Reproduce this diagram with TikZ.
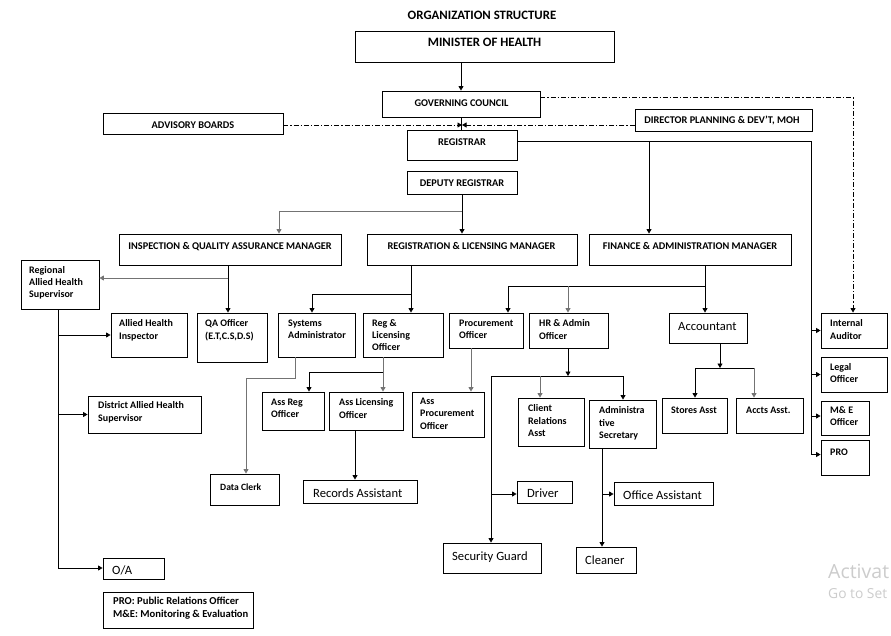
\documentclass[tikz,border=0pt]{standalone}
\usepackage{fontspec}
\setmainfont{Carlito}
\newfontfamily\wmfont{Open Sans}
\usetikzlibrary{arrows.meta,fit,calc}
\newcommand\bx[5]{\node[box, fit={(#2,#3) (#4,#5)}] (#1) {};}
\begin{document}
\begin{tikzpicture}[x=1pt,y=-1pt,
 box/.style={draw, line width=0.9pt, inner sep=0pt},
 hd/.style={font=\fontsize{10.3}{11}\selectfont\bfseries, inner sep=0pt, anchor=base},
 big/.style={font=\fontsize{12.8}{14}\selectfont\bfseries, inner sep=0pt, anchor=base},
 sm/.style={font=\fontsize{10}{12.5}\selectfont\bfseries, inner sep=0pt, anchor=north west, align=left, execute at begin node=\strut},
 rg/.style={font=\fontsize{12.6}{14}\selectfont, inner sep=0pt, anchor=base west},
 ln/.style={line width=0.8pt},
 gl/.style={draw=black!55},
 arr/.style={ln, -{Triangle[width=5pt,length=4.5pt]}},
 dd/.style={dash pattern=on 5pt off 2pt on 1.2pt off 2pt},
]
\useasboundingbox (0,0) rectangle (891,636);
\fill[white] (0,0) rectangle (891,636);

% ---- boxes
\bx{min}{355}{31}{614}{62}
\bx{gc}{382}{91}{540}{117}
\bx{adv}{103}{113}{283}{134}
\bx{dir}{635}{109}{812}{131}
\bx{reg}{407}{130}{517}{160}
\bx{dep}{407}{171}{517}{194}
\bx{insp}{119}{234}{341}{265}
\bx{regm}{367}{234}{577}{265}
\bx{fin}{589}{234}{791}{265}
\bx{rahs}{21}{260}{99}{309}
\bx{ahi}{111}{313}{187}{357}
\bx{qa}{197}{313}{267}{362}
\bx{sa}{278}{313}{355}{357}
\bx{rlo}{363}{313}{443}{357}
\bx{proc}{449}{313}{523}{348}
\bx{hr}{529}{313}{608}{348}
\bx{acc}{669}{313}{747}{343}
\bx{ia}{821}{313}{887}{348}
\bx{legal}{821}{357}{887}{392}
\bx{me}{821}{401}{869}{435}
\bx{pro}{821}{440}{869}{475}
\bx{dahs}{88}{396}{201}{433}
\bx{areg}{262}{392}{324}{430}
\bx{alic}{329}{392}{403}{430}
\bx{aproc}{412}{392}{484}{437}
\bx{cra}{518}{398}{584}{446}
\bx{ads}{589}{400}{656}{448}
\bx{stores}{662}{398}{727}{433}
\bx{accts}{736}{398}{803}{433}
\bx{dc}{210}{474}{279}{505}
\bx{rec}{303}{480}{417}{503}
\bx{drv}{517}{481}{572}{503}
\bx{oas}{614}{482}{713}{505}
\bx{sg}{443}{543}{541}{573}
\bx{cl}{576}{547}{636}{573}
\bx{oa}{103}{558}{164}{579}
\bx{leg}{103}{592}{253}{628}

% ---- texts
\node[big] (t-title) at (482,20) {ORGANIZATION STRUCTURE};
\node[big] (t-min) at (484.5,47) {MINISTER OF HEALTH};
\node[hd] (t-gc) at (461.5,106.5) {GOVERNING COUNCIL};
\node[hd] (t-adv) at (193,128.5) {ADVISORY BOARDS};
\node[hd] (t-dir) at (722,123.5) {DIRECTOR PLANNING \& DEV'T, MOH};
\node[hd] (t-reg) at (462,145.5) {REGISTRAR};
\node[hd] (t-dep) at (462,186.5) {DEPUTY REGISTRAR};
\node[hd] (t-insp) at (230,249.5) {INSPECTION \& QUALITY ASSURANCE MANAGER};
\node[hd] (t-regm) at (471.5,249.5) {REGISTRATION \& LICENSING MANAGER};
\node[hd] (t-fin) at (690,249.5) {FINANCE \& ADMINISTRATION MANAGER};

\node[sm, font=\fontsize{10}{12}\selectfont\bfseries] (t-rahs) at (29,266.5) {Regional\\Allied Health\\Supervisor};
\node[sm] (t-ahi) at (119,319.5) {Allied Health\\Inspector};
\node[sm] (t-qa) at (205,319.5) {QA Officer\\(E.T,C.S,D.S)};
\node[sm] (t-sa) at (288,319.5) {Systems\\Administrator};
\node[sm, font=\fontsize{10}{12}\selectfont\bfseries] (t-rlo) at (372,319.5) {Reg \&\\Licensing\\Officer};
\node[sm] (t-proc) at (459,319.5) {Procurement\\Officer};
\node[sm] (t-hr) at (539,319.5) {HR \& Admin\\Officer};
\node[sm] (t-ia) at (830,319.5) {Internal\\Auditor};
\node[sm, font=\fontsize{10}{12}\selectfont\bfseries] (t-legal) at (830,363.5) {Legal\\Officer};
\node[sm] (t-dahs) at (98,401.5) {District Allied Health\\Supervisor};
\node[sm] (t-areg) at (271,398.5) {Ass Reg\\Officer};
\node[sm] (t-alic) at (339,398.5) {Ass Licensing\\Officer};
\node[sm] (t-aproc) at (420,397.5) {Ass\\Procurement\\Officer};
\node[sm] (t-cra) at (528,404.5) {Client\\Relations\\Asst};
\node[sm] (t-ads) at (599,406.5) {Administra\\tive\\Secretary};
\node[sm] (t-stores) at (671,404.5) {Stores Asst};
\node[sm] (t-accts) at (746,404.5) {Accts Asst.};
\node[sm, font=\fontsize{10}{12}\selectfont\bfseries] (t-me) at (830,406.5) {M\& E\\Officer};
\node[sm] (t-pro) at (830,446.5) {PRO};
\node[sm, font=\fontsize{9.6}{12}\selectfont\bfseries] (t-dc) at (220,481.5) {Data Clerk};
\node[sm, font=\fontsize{10.6}{13}\selectfont\bfseries] (t-leg) at (113,597) {PRO: Public Relations Officer\\M\&E: Monitoring \& Evaluation};

\node[rg] (t-acc) at (678,330) {Accountant};
\node[rg] (t-rec) at (313,497) {Records Assistant};
\node[rg] (t-drv) at (527,497) {Driver};
\node[rg] (t-oas) at (623,499) {Office Assistant};
\node[rg] (t-sg) at (452,560) {Security Guard};
\node[rg] (t-cl) at (585,564) {Cleaner};
\node[rg] (t-oa) at (112,574) {O/A};

\node[inner sep=0pt, anchor=base west, text=black!20, font=\wmfont\fontsize{19.5}{21}\selectfont] (wm1) at (828,578) {Activat};
\node[inner sep=0pt, anchor=base west, text=black!20, font=\wmfont\fontsize{13.8}{15}\selectfont] (wm2) at (828,598) {Go to Set};

% ---- junctions
\coordinate (j0) at (462,125);
\coordinate (j1) at (853,97);
\coordinate (j2) at (811,141);
\coordinate (j3) at (649,141);
\coordinate (j4) at (462,211);
\coordinate (j5) at (279,211);
\coordinate (j6) at (228,278);
\coordinate (j7) at (411,294);
\coordinate (j8) at (312,294);
\coordinate (j9) at (705,286);
\coordinate (j10) at (508,286);
\coordinate (j11) at (568,286);
\coordinate (j12) at (720,368);
\coordinate (j13) at (695,368);
\coordinate (j14) at (754,368);
\coordinate (j15) at (471,370);
\coordinate (j16) at (568,376);
\coordinate (j17) at (491,376);
\coordinate (j18) at (540,376);
\coordinate (j19) at (623,376);
\coordinate (j20) at (491,494);
\coordinate (j21) at (602,494);
\coordinate (j22) at (295,378);
\coordinate (j23) at (246,378);
\coordinate (j24) at (383,372);
\coordinate (j25) at (309,372);
\coordinate (j26) at (355,450);
\coordinate (j27) at (58,568);
\coordinate (pme) at ([yshift=2pt]me.west);
\coordinate (ppro) at ([yshift=3pt]pro.west);

% ---- connectors
\draw[arr] (min.south -| gc.north) -- (gc.north);
\draw[ln] (gc.south) -- (gc.south |- reg.north);
\draw[arr, dd] (adv.east |- j0) -- (j0);
\draw[arr, dd] (dir.west |- j0) -- (j0);
\draw[arr, dd] (gc.east |- j1) -- (j1) -- (j1 |- ia.north);
\draw[ln] (reg.east |- j2) -- (j2) -- (j2 |- ppro);
\draw[arr] (j2 |- ia.west) -- (ia.west);
\draw[arr] (j2 |- legal.west) -- (legal.west);
\draw[arr] (j2 |- pme) -- (pme);
\draw[arr] (j2 |- ppro) -- (ppro);
\draw[arr] (j3) -- (j3 |- fin.north);
\draw[ln] (dep.south) -- (j4);
\draw[ln, gl] (j4) -- (j5);
\draw[arr, gl] (j5) -- (j5 |- insp.north);
\draw[arr] (j4) -- (j4 |- regm.north);
\draw[arr] (insp.south -| j6) -- (j6 |- qa.north);
\draw[arr, gl] (j6) -- (j6 -| rahs.east);
\draw[arr] (regm.south -| j7) -- (j7 |- rlo.north);
\draw[arr] (j7) -- (j8) -- (j8 |- sa.north);
\draw[arr] (fin.south -| j9) -- (j9 |- acc.north);
\draw[ln] (j9) -- (j10);
\draw[arr] (j10) -- (j10 |- proc.north);
\draw[arr, gl] (j11) -- (j11 |- hr.north);
\draw[arr] (acc.south -| j12) -- (j12);
\draw[ln] (j13) -- (j14);
\draw[arr] (j13) -- (j13 |- stores.north);
\draw[arr, gl] (j14) -- (j14 |- accts.north);
\draw[arr, gl] (proc.south -| j15) -- (j15 |- aproc.north);
\draw[arr] (hr.south -| j16) -- (j16);
\draw[ln] (j17) -- (j19);
\draw[arr, gl] (j18) -- (j18 |- cra.north);
\draw[arr] (j19) -- (j19 |- ads.north);
\draw[arr] (j17) -- (j17 |- sg.north);
\draw[arr] (j20) -- (j20 -| drv.west);
\draw[arr] (ads.south -| j21) -- (j21 |- cl.north);
\draw[arr] (j21) -- (j21 -| oas.west);
\draw[arr, gl] (sa.south -| j22) -- (j22) -- (j23) -- (j23 |- dc.north);
\draw[arr, gl] (rlo.south -| j24) -- (j24 |- alic.north);
\draw[arr] (j24) -- (j25) -- (j25 |- areg.north);
\draw[arr] (alic.south -| j26) -- (j26 |- rec.north);
\draw[arr] (rahs.south -| j27) -- (j27) -- (j27 -| oa.west);
\draw[arr] (j27 |- ahi.west) -- (ahi.west);
\draw[arr] (j27 |- dahs.west) -- (dahs.west);
\end{tikzpicture}
\end{document}
